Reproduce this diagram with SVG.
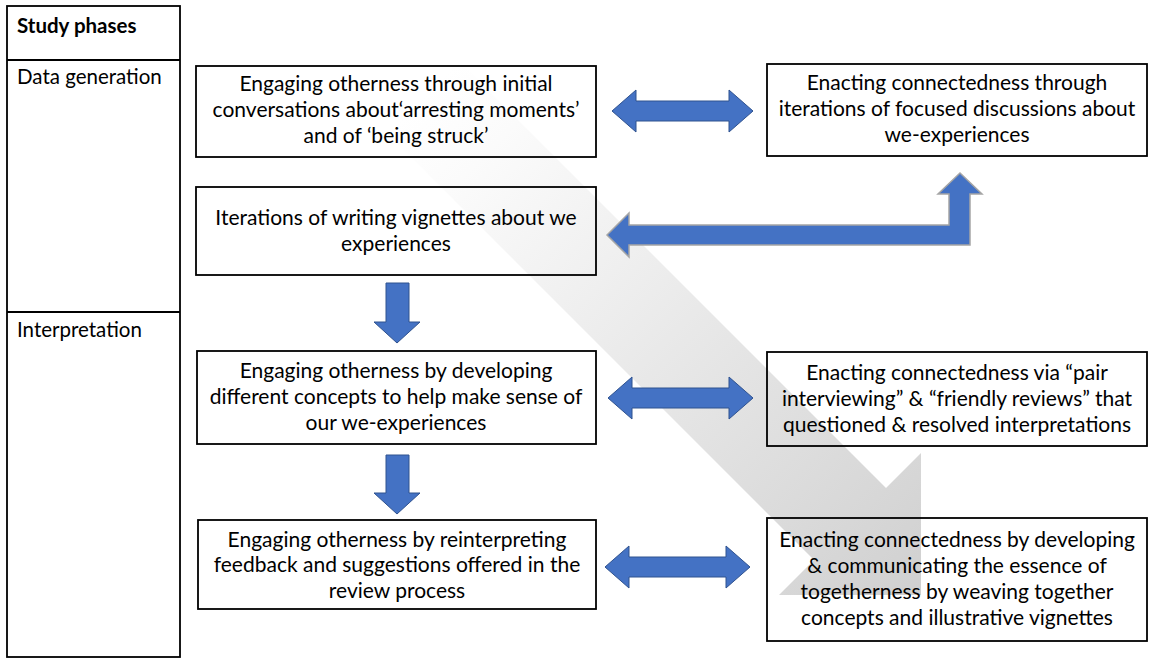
<svg xmlns="http://www.w3.org/2000/svg" width="1150" height="660" viewBox="0 0 1150 660">
<defs>
<linearGradient id="gg" gradientUnits="userSpaceOnUse" x1="423" y1="97" x2="921" y2="595">
<stop offset="0" stop-color="#ffffff"/>
<stop offset="0.12" stop-color="#fbfbfb"/>
<stop offset="1" stop-color="#d0d0d0"/>
</linearGradient>
<style>
.box{fill:none;stroke:#000;stroke-width:1.8}
.t{font-family:Lato,"Liberation Sans",sans-serif;font-size:21px;fill:#000;text-anchor:middle}
.tl{font-family:Lato,"Liberation Sans",sans-serif;font-size:20.5px;fill:#000}
.b{fill:#4472C4;stroke:#2F528F;stroke-width:1}
.bg{fill:#4472C4;stroke:#A5A5A5;stroke-width:1.5}
</style>
</defs>
<rect width="1150" height="660" fill="#fff"/>
<g id="trend-arrow">
<polygon points="459,61 886,488 921,453 921,595 779,595 814,560 387,133" fill="url(#gg)"/>
</g>
<g id="phases">
<rect x="7" y="6" width="173" height="651" class="box"/>
<line x1="7" y1="60" x2="180" y2="60" stroke="#000" stroke-width="1.8"/>
<line x1="7" y1="312" x2="180" y2="312" stroke="#000" stroke-width="1.8"/>
<text x="17" y="33" class="tl" font-weight="bold">Study phases</text>
<text x="17" y="84" class="tl">Data generation</text>
<text x="17" y="337" class="tl">Interpretation</text>
</g>
<g id="n1">
<rect x="196" y="66" width="400" height="91" class="box"/>
<text class="t"><tspan x="396" y="91">Engaging otherness through initial</tspan><tspan x="396" y="117">conversations about‘arresting moments’</tspan><tspan x="396" y="143">and of ‘being struck’</tspan></text>
</g>
<g id="n2">
<rect x="767" y="64" width="380" height="92" class="box"/>
<text class="t"><tspan x="957" y="90">Enacting connectedness through</tspan><tspan x="957" y="116">iterations of focused discussions about</tspan><tspan x="957" y="142">we-experiences</tspan></text>
</g>
<g id="n3">
<rect x="196" y="187" width="400" height="88" class="box"/>
<text class="t"><tspan x="396" y="225">Iterations of writing vignettes about we</tspan><tspan x="396" y="251">experiences</tspan></text>
</g>
<g id="n4">
<rect x="197" y="351" width="399" height="93" class="box"/>
<text class="t"><tspan x="396" y="378">Engaging otherness by developing</tspan><tspan x="396" y="404">different concepts to help make sense of</tspan><tspan x="396" y="430">our we-experiences</tspan></text>
</g>
<g id="n5">
<rect x="198" y="520" width="398" height="89" class="box"/>
<text class="t"><tspan x="397" y="547">Engaging otherness by reinterpreting</tspan><tspan x="397" y="572">feedback and suggestions offered in the</tspan><tspan x="397" y="598">review process</tspan></text>
</g>
<g id="n6">
<rect x="767" y="352" width="380" height="94" class="box"/>
<text class="t"><tspan x="957" y="380">Enacting connectedness via “pair</tspan><tspan x="957" y="406">interviewing” &amp; “friendly reviews” that</tspan><tspan x="957" y="432">questioned &amp; resolved interpretations</tspan></text>
</g>
<g id="n7">
<rect x="767" y="518" width="380" height="123" class="box"/>
<text class="t"><tspan x="957" y="547">Enacting connectedness by developing</tspan><tspan x="957" y="573">&amp; communicating the essence of</tspan><tspan x="957" y="599">togetherness by weaving together</tspan><tspan x="957" y="625">concepts and illustrative vignettes</tspan></text>
</g>
<g id="connectors">
<path class="b" d="M612,111 L636,90 L636,101 L729,101 L729,90 L753,111 L729,132 L729,121 L636,121 L636,132 Z"/>
<path class="b" d="M608,398 L632,377 L632,388 L729,388 L729,377 L753,398 L729,419 L729,408 L632,408 L632,419 Z"/>
<path class="b" d="M605,567 L629,546 L629,557 L726,557 L726,546 L750,567 L726,588 L726,577 L629,577 L629,588 Z"/>
<path class="bg" d="M607,235 L629,213 L629,225 L949,225 L949,194 L938,194 L960,173 L982,194 L970,194 L970,245 L629,245 L629,257 Z"/>
<path class="b" d="M386,283 L409,283 L409,322 L420,322 L397,343 L374,322 L386,322 Z"/>
<path class="b" d="M386,455 L409,455 L409,493 L420,493 L397,514 L374,493 L386,493 Z"/>
</g>
</svg>
